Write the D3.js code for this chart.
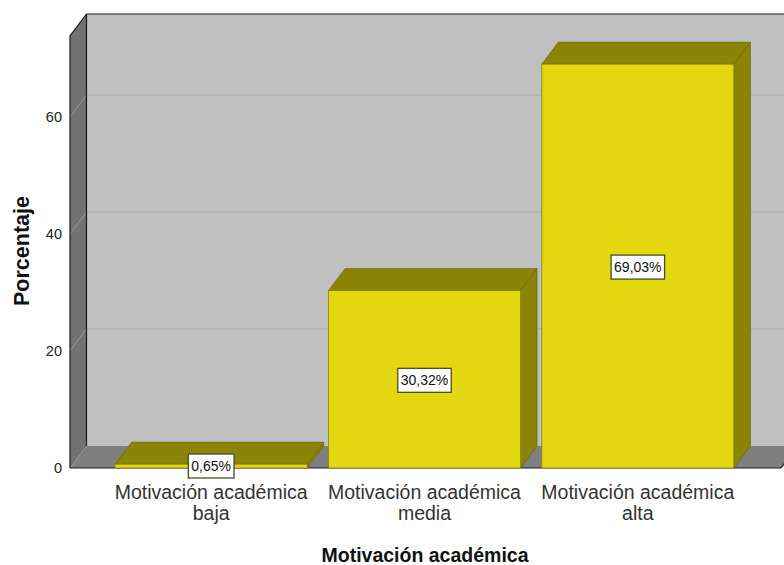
<!DOCTYPE html>
<html>
<head>
<meta charset="utf-8">
<script src="https://cdn.jsdelivr.net/npm/d3@7"></script>
<style>
  body { margin: 0; background: #fff; }
  svg { display: block; font-family: "Liberation Sans", Arial, sans-serif; }
</style>
</head>
<body>
<div id="chart"></div>
<script>
// chart data
const categories = ['Motivación académica baja', 'Motivación académica media', 'Motivación académica alta'];
const catLines = [['Motivación académica', 'baja'], ['Motivación académica', 'media'], ['Motivación académica', 'alta']];
const percents = [0.65, 30.32, 69.03];
const pctLabels = ['0,65%', '30,32%', '69,03%'];
const yTicks = [0, 20, 40, 60];

const width = 784, height = 565;
const dx = 16.5, dy = -22; // depth offset of the 3D box

const svg = d3.select('#chart').append('svg')
    .attr('width', width)
    .attr('height', height);

const x = d3.scaleBand()
    .domain(categories)
    .range([104.5, 744.5])
    .paddingInner(0.1)
    .paddingOuter(0.05);

const y = d3.scaleLinear()
    .domain([0, 73.85])
    .range([468, 36]);

const x0 = 70, x1 = 781;
const yBase = y(0), yTop = y(73.85);

const poly = pts => pts.map(p => p.join(',')).join(' ');

// back wall
svg.append('polygon')
    .attr('points', poly([[x0 + dx, yTop + dy], [x1 + dx, yTop + dy], [x1 + dx, yBase + dy], [x0 + dx, yBase + dy]]))
    .attr('fill', '#c0c0c0');

// left wall
svg.append('polygon')
    .attr('points', poly([[x0, yTop], [x0 + dx, yTop + dy], [x0 + dx, yBase + dy], [x0, yBase]]))
    .attr('fill', '#727272');

// floor
svg.append('polygon')
    .attr('points', poly([[x0, yBase], [x0 + dx, yBase + dy], [x1 + dx, yBase + dy], [x1, yBase]]))
    .attr('fill', '#7f7f7f');

// gridlines on back wall and left wall
const grid = svg.append('g');
yTicks.filter(d => d > 0).forEach(t => {
    grid.append('line')
        .attr('x1', x0 + dx).attr('x2', x1 + dx)
        .attr('y1', y(t) + dy).attr('y2', y(t) + dy)
        .attr('stroke', '#a9a9a9').attr('stroke-width', 1);
    grid.append('line')
        .attr('x1', x0).attr('x2', x0 + dx)
        .attr('y1', y(t)).attr('y2', y(t) + dy)
        .attr('stroke', '#9a9a9a').attr('stroke-width', 1);
});

// frame edges
const frame = svg.append('g').attr('stroke', '#1a1a1a').attr('stroke-width', 1.2).attr('fill', 'none');
frame.append('polyline')
    .attr('points', poly([[x0, yBase], [x0, yTop], [x0 + dx, yTop + dy], [x1 + dx, yTop + dy]]));
frame.append('line')
    .attr('x1', x0 + dx).attr('x2', x0 + dx)
    .attr('y1', yTop + dy).attr('y2', yBase + dy);
frame.append('line')
    .attr('x1', x0).attr('x2', x1)
    .attr('y1', yBase).attr('y2', yBase);
frame.append('line')
    .attr('x1', x1).attr('x2', x1 + dx)
    .attr('y1', yBase).attr('y2', yBase + dy);

// bars
const bars = svg.append('g').selectAll('g')
    .data(categories)
    .enter().append('g');

bars.each(function (c, i) {
    const g = d3.select(this);
    const bx = x(c), bw = x.bandwidth(), by = y(percents[i]);
    // side
    g.append('polygon')
        .attr('points', poly([[bx + bw, by], [bx + bw + dx, by + dy], [bx + bw + dx, yBase + dy], [bx + bw, yBase]]))
        .attr('fill', '#8b8407').attr('stroke', '#6f6a05').attr('stroke-width', 0.8);
    // top
    g.append('polygon')
        .attr('points', poly([[bx, by], [bx + dx, by + dy], [bx + bw + dx, by + dy], [bx + bw, by]]))
        .attr('fill', '#8b8407').attr('stroke', '#6f6a05').attr('stroke-width', 0.8);
    // front
    g.append('rect')
        .attr('x', bx).attr('y', by)
        .attr('width', bw).attr('height', yBase - by)
        .attr('fill', '#e3d70f').attr('stroke', '#8b8407').attr('stroke-width', 0.8);
});

// value labels
bars.each(function (c, i) {
    const g = d3.select(this);
    const cx = x(c) + x.bandwidth() / 2;
    const cy = i === 0 ? 466 : (y(percents[i]) + yBase) / 2 + 1;
    const t = g.append('text')
        .attr('x', cx).attr('y', cy)
        .attr('text-anchor', 'middle')
        .attr('dy', '0.36em')
        .attr('font-size', 14)
        .attr('fill', '#111')
        .text(pctLabels[i]);
    const bb = t.node().getBBox();
    g.insert('rect', 'text')
        .attr('x', bb.x - 3).attr('y', cy - 12)
        .attr('width', bb.width + 6).attr('height', 24)
        .attr('fill', '#fff').attr('stroke', '#4a4a2a').attr('stroke-width', 1.3);
});

// y axis tick labels
svg.append('g').selectAll('text')
    .data(yTicks)
    .enter().append('text')
    .attr('x', 62).attr('y', d => y(d))
    .attr('dy', '0.36em')
    .attr('text-anchor', 'end')
    .attr('font-size', 14.5)
    .attr('fill', '#222')
    .text(d => d);

// category labels
const catG = svg.append('g');
categories.forEach((c, i) => {
    const t = catG.append('text')
        .attr('x', x(c) + x.bandwidth() / 2)
        .attr('y', 499)
        .attr('text-anchor', 'middle')
        .attr('font-size', 19.5)
        .attr('fill', '#333');
    catLines[i].forEach((ln, j) => {
        t.append('tspan')
            .attr('x', x(c) + x.bandwidth() / 2)
            .attr('dy', j === 0 ? 0 : 21)
            .text(ln);
    });
});

// axis titles
svg.append('text')
    .attr('x', 425).attr('y', 562)
    .attr('text-anchor', 'middle')
    .attr('font-size', 19.5)
    .attr('font-weight', 'bold')
    .attr('fill', '#111')
    .text('Motivación académica');

svg.append('text')
    .attr('transform', 'translate(29,251) rotate(-90)')
    .attr('text-anchor', 'middle')
    .attr('font-size', 21.5)
    .attr('font-weight', 'bold')
    .attr('fill', '#111')
    .text('Porcentaje');
</script>
</body>
</html>
